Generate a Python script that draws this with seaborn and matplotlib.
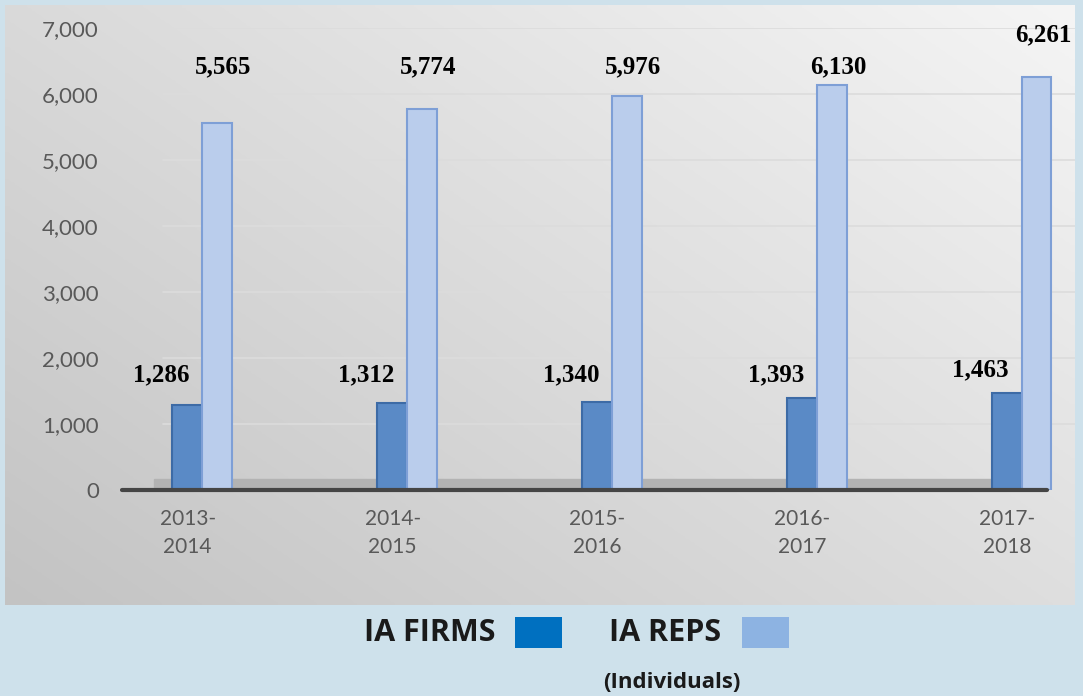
import numpy as np
import pandas as pd
import matplotlib
matplotlib.use("Agg")
import matplotlib.pyplot as plt
import seaborn as sns

# ---- data ----
periods = ["2013-\n2014", "2014-\n2015", "2015-\n2016", "2016-\n2017", "2017-\n2018"]
ia_firms = [1286, 1312, 1340, 1393, 1463]
ia_reps = [5565, 5774, 5976, 6130, 6261]
series_names = ["IA FIRMS", "IA REPS"]
y_ticks = [0, 1000, 2000, 3000, 4000, 5000, 6000, 7000]

# layout constants for the data labels (value units)
firm_label_y = [1742, 1742, 1742, 1742, 1818]
rep_label_y = [6409, 6409, 6409, 6409, 6894]

df = pd.DataFrame({
    "period": periods * 2,
    "series": [series_names[0]] * len(periods) + [series_names[1]] * len(periods),
    "value": ia_firms + ia_reps,
})

sns.set_theme(style="white")
plt.rcParams["font.family"] = ["Lato", "DejaVu Sans"]

W, H = 1083, 696
fig = plt.figure(figsize=(W / 100, H / 100), dpi=100)
fig.patch.set_facecolor("#CEE1EB")

# gray gradient panel
bg = fig.add_axes([5 / W, 1 - 605 / H, 1070 / W, 600 / H], zorder=0)
gx = np.linspace(0, 1, 200)
gy = np.linspace(0, 1, 200)
GX, GY = np.meshgrid(gx, gy)
t = 0.55 * GX + 0.45 * (1 - GY)
c_dark = np.array([0xC3, 0xC3, 0xC3]) / 255
c_light = np.array([0xF5, 0xF5, 0xF5]) / 255
img = c_dark[None, None, :] * (1 - t[..., None]) + c_light[None, None, :] * t[..., None]
bg.imshow(img, aspect="auto", extent=[0, 1, 0, 1], origin="upper")
bg.set_axis_off()

ax = fig.add_axes([135 / W, 1 - 490 / H, 940 / W, 462 / H], zorder=1)
ax.set_facecolor("none")

palette = {series_names[0]: "#5A8AC6", series_names[1]: "#BACDEC"}
sns.barplot(data=df, x="period", y="value", hue="series", palette=palette,
            width=0.29, ax=ax, legend=False, saturation=1, zorder=3)

edge_cols = ["#3D6BA6"] * len(periods) + ["#7E9FD6"] * len(periods)
for p, ec in zip(ax.patches, edge_cols):
    p.set_edgecolor(ec)
    p.set_linewidth(1.5)

ax.set_xlim(-0.327, 4.26)
ax.set_ylim(0, 7000)
ax.set_yticks(y_ticks)
ax.set_yticklabels([f"{v:,}" for v in y_ticks])
ax.set_xticks(np.arange(len(periods)) - 0.07)
ax.set_xticklabels(periods, linespacing=1.45)
ax.tick_params(axis="y", length=0, pad=26, labelsize=16, labelcolor="#595959")
ax.tick_params(axis="x", length=0, pad=14, labelsize=15, labelcolor="#595959")
ax.set_xlabel("")
ax.set_ylabel("")
for s in ax.spines.values():
    s.set_visible(False)

for v in y_ticks[1:]:
    ax.axhline(v, xmin=0.03, xmax=1, color="#DCDCDC", lw=1.2, zorder=1)

# floor and baseline
ax.axhspan(0, 170, xmin=0.02, xmax=0.97, color="#B3B3B3", zorder=2)
ax.axhline(0, xmin=-0.014, xmax=0.97, color="#454545", lw=3, zorder=4, clip_on=False)

# data labels
lab_font = dict(family=["Liberation Serif", "DejaVu Serif"], fontsize=18,
                fontweight="bold", color="black", ha="center", va="center")
for i in range(len(periods)):
    ax.text(i - 0.2, firm_label_y[i], f"{ia_firms[i]:,}", **lab_font)
    ax.text(i + 0.105, rep_label_y[i], f"{ia_reps[i]:,}", **lab_font)

# legend
leg_font = dict(family=["Open Sans", "DejaVu Sans"], fontweight="bold", color="#1A1A1A")
fig.text(430 / W, 1 - 633 / H, series_names[0], fontsize=22, ha="center", va="center", **leg_font)
fig.text(665 / W, 1 - 633 / H, series_names[1], fontsize=22, ha="center", va="center", **leg_font)
fig.text(672 / W, 1 - 683 / H, "(Individuals)", fontsize=16, ha="center", va="center", **leg_font)
fig.patches.append(plt.Rectangle((515 / W, 1 - 648 / H), 47 / W, 31 / H,
                                 transform=fig.transFigure, facecolor="#0070C0",
                                 edgecolor="none", figure=fig))
fig.patches.append(plt.Rectangle((742 / W, 1 - 648 / H), 47 / W, 31 / H,
                                 transform=fig.transFigure, facecolor="#8DB3E2",
                                 edgecolor="none", figure=fig))

fig.savefig("out.png", dpi=100, facecolor=fig.get_facecolor())
